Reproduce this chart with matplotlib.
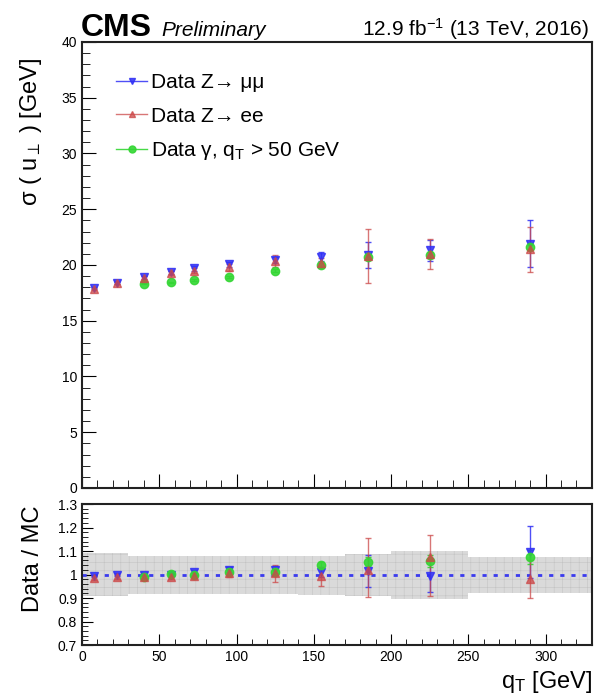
import numpy as np
import matplotlib
matplotlib.use("Agg")
import matplotlib.pyplot as plt
from matplotlib.ticker import MultipleLocator
from matplotlib.lines import Line2D

plt.rcParams['font.family'] = ['Liberation Sans', 'DejaVu Sans']
plt.rcParams['mathtext.fontset'] = 'custom'
plt.rcParams['mathtext.rm'] = 'Liberation Sans'
plt.rcParams['mathtext.it'] = 'Liberation Sans:italic'
plt.rcParams['hatch.linewidth'] = 0.4

# qT bin centres
qt = [7.5, 22.5, 40, 57.5, 72.5, 95, 125, 155, 185, 225, 290]
qt_gamma = [40, 57.5, 72.5, 95, 125, 155, 185, 225, 290]

# sigma(u_perp) [GeV]
mumu = [17.9, 18.4, 18.9, 19.35, 19.7, 20.05, 20.45, 20.75, 20.9, 21.3, 21.9]
mumu_err = [0.1, 0.1, 0.15, 0.15, 0.2, 0.2, 0.3, 0.4, 1.2, 0.9, 2.1]
ee = [17.85, 18.4, 18.85, 19.3, 19.5, 19.8, 20.35, 20.2, 20.8, 21.0, 21.4]
ee_err = [0.1, 0.15, 0.2, 0.2, 0.25, 0.3, 0.55, 0.45, 2.4, 1.35, 2.0]
gamma = [18.3, 18.45, 18.65, 18.95, 19.5, 20.0, 20.7, 20.9, 21.65]
gamma_err = [0.05, 0.05, 0.05, 0.08, 0.1, 0.15, 0.2, 0.25, 0.3]

# Data / MC
r_mumu = [0.995, 1.0, 1.0, 1.0, 1.01, 1.02, 1.02, 1.01, 1.015, 0.995, 1.095]
r_mumu_err = [0.005, 0.005, 0.008, 0.008, 0.01, 0.01, 0.015, 0.02, 0.067, 0.07, 0.11]
r_ee = [0.985, 0.99, 0.99, 0.99, 0.995, 1.005, 1.005, 0.993, 1.02, 1.075, 0.98]
r_ee_lo = [0.008, 0.01, 0.01, 0.01, 0.012, 0.015, 0.035, 0.04, 0.115, 0.165, 0.08]
r_ee_hi = [0.008, 0.01, 0.01, 0.01, 0.012, 0.015, 0.035, 0.04, 0.135, 0.095, 0.08]
r_gamma = [0.99, 1.003, 1.0, 1.01, 1.01, 1.04, 1.055, 1.057, 1.073]
r_gamma_err = [0.005, 0.005, 0.006, 0.008, 0.01, 0.012, 0.02, 0.025, 0.03]

# systematic band
band_edges = [0, 15, 30, 50, 65, 80, 110, 140, 170, 200, 250, 330]
band_up = [1.092, 1.092, 1.08, 1.08, 1.08, 1.08, 1.08, 1.077, 1.088, 1.10, 1.075]
band_dn = [0.91, 0.91, 0.918, 0.918, 0.918, 0.918, 0.915, 0.912, 0.908, 0.895, 0.922]

c_mumu = '#3030f5'
c_ee = '#cc4848'
c_gamma = '#33d633'

fig = plt.figure(figsize=(5.95, 6.97), dpi=100)
ax = fig.add_axes([0.1378, 0.2999, 0.857, 0.6399])
rax = fig.add_axes([0.1378, 0.0746, 0.857, 0.2023])

eb = dict(linestyle='none', capsize=2, elinewidth=1, capthick=1, markersize=6)
ax.errorbar(qt, mumu, yerr=mumu_err, color=c_mumu, marker='v', alpha=0.85, **eb)
ax.errorbar(qt_gamma, gamma, yerr=gamma_err, color=c_gamma, marker='o', alpha=0.9, **eb)
ax.errorbar(qt, ee, yerr=ee_err, color=c_ee, marker='^', alpha=0.75, **eb)

ax.set_xlim(0, 330)
ax.set_ylim(0, 40)
ax.yaxis.set_major_locator(MultipleLocator(5))
ax.yaxis.set_minor_locator(MultipleLocator(1))
ax.xaxis.set_major_locator(MultipleLocator(50))
ax.xaxis.set_minor_locator(MultipleLocator(10))
ax.tick_params(which='both', direction='in', labelsize=10)
ax.tick_params(which='major', length=10)
ax.tick_params(which='minor', length=6)
ax.tick_params(axis='x', labelbottom=False)
ax.set_ylabel('σ ( u$_{\\perp}$ ) [GeV]', fontsize=17, loc='top')

handles = [Line2D([], [], color=c, marker=m, markersize=5, linewidth=1, alpha=a)
           for c, m, a in [(c_mumu, 'v', 0.85), (c_ee, '^', 0.75), (c_gamma, 'o', 0.9)]]
ax.legend(handles,
          ['Data Z→ μμ', 'Data Z→ ee', 'Data γ, q$_{\\mathrm{T}}$ > 50 GeV'],
          loc='upper left', bbox_to_anchor=(0.03, 0.972), frameon=False,
          fontsize=15, handlelength=1.5, handletextpad=0.2, labelspacing=0.7)

fig.text(0.135, 0.948, 'CMS', fontsize=23, fontweight='bold')
fig.text(0.272, 0.948, 'Preliminary', fontsize=15, style='italic')
fig.text(0.99, 0.948, '12.9 fb$^{\\mathregular{-1}}$ (13 TeV, 2016)', fontsize=15, ha='right')

# ratio panel
rax.fill_between(band_edges, band_up + [band_up[-1]], band_dn + [band_dn[-1]],
                 step='post', facecolor='#dadada', edgecolor='#c4c4c4',
                 hatch='++', linewidth=0)
rax.axhline(1.0, color='#3a3aee', linestyle=(0, (1.5, 2.5)), linewidth=2)
rax.errorbar(qt, r_mumu, yerr=r_mumu_err, color=c_mumu, marker='v', alpha=0.85, **eb)
rax.errorbar(qt_gamma, r_gamma, yerr=r_gamma_err, color=c_gamma, marker='o', alpha=0.9, **eb)
rax.errorbar(qt, r_ee, yerr=[r_ee_lo, r_ee_hi], color=c_ee, marker='^', alpha=0.75, **eb)

rax.set_xlim(0, 330)
rax.set_ylim(0.7, 1.3)
rax.yaxis.set_minor_locator(MultipleLocator(0.02))
rax.xaxis.set_major_locator(MultipleLocator(50))
rax.xaxis.set_minor_locator(MultipleLocator(10))
rax.set_yticks([0.7, 0.8, 0.9, 1.0, 1.1, 1.2, 1.3])
rax.set_yticklabels(['0.7', '0.8', '0.9', '1', '1.1', '1.2', '1.3'])
rax.tick_params(which='both', direction='in', labelsize=10)
rax.tick_params(which='major', length=8)
rax.tick_params(which='minor', length=4)
rax.set_ylabel('Data / MC', fontsize=17, loc='top')
rax.set_xlabel('q$_{\\mathrm{T}}$ [GeV]', fontsize=17, loc='right')

for a in (ax, rax):
    for s in a.spines.values():
        s.set_linewidth(1.5)
        s.set_color('#222222')
ax.yaxis.set_label_coords(-0.075, 0.965)
rax.yaxis.set_label_coords(-0.075, 0.99)

plt.savefig('out.png', dpi=100)
